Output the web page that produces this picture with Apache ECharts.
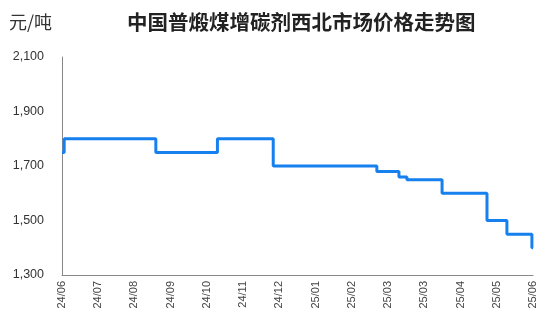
<!DOCTYPE html>
<html><head><meta charset="utf-8">
<script src="https://cdn.jsdelivr.net/npm/echarts@6/dist/echarts.min.js"></script>
<style>html,body{margin:0;padding:0;background:#fff}#c{width:550px;height:323px}</style>
</head><body><div id="c"></div>
<script>
// Tick labels along the x axis (evenly spaced, index 0..13)
var dateLabels = ['24/06','24/07','24/08','24/09','24/10','24/11','24/12','25/01','25/02','25/03','25/03','25/04','25/05','25/06'];
// Positions (in tick-index units) where the price level changes
var stepPositions = [0, 0.06, 2.59, 4.29, 5.83, 8.69, 9.30, 9.52, 10.49, 11.73, 12.28, 12.97, 13];
// Price level starting at each position (元/吨)
var prices = [1750, 1800, 1750, 1800, 1700, 1680, 1660, 1650, 1600, 1500, 1450, 1400, 1400];

var data = stepPositions.map(function (p, i) { return [p, prices[i]]; });
var chart = echarts.init(document.getElementById('c'));
chart.setOption({
  animation: false,
  backgroundColor: '#fff',
  title: {
    text: '中国普煅煤增碳剂西北市场价格走势图',
    left: 122, top: 7,
    textStyle: { fontSize: 20.5, fontWeight: 'bold', color: '#222', fontFamily: 'Noto Sans CJK SC' }
  },
  grid: { left: 62, right: 17, top: 57, bottom: 48 },
  xAxis: {
    type: 'value', min: 0, max: 13, interval: 1,
    axisLine: { show: true, lineStyle: { color: '#888', width: 1 } },
    axisTick: { show: false },
    splitLine: { show: false },
    axisLabel: {
      rotate: 90, fontSize: 11, color: '#444', margin: 6, fontFamily: 'Liberation Sans',
      formatter: function (v) { return dateLabels[Math.round(v)]; }
    }
  },
  yAxis: {
    type: 'value', min: 1300, max: 2100, interval: 200,
    name: '元/吨', nameLocation: 'end', nameGap: 0,
    nameTextStyle: { fontSize: 18, color: '#333', align: 'left', padding: [0, 0, 26, -53], fontFamily: 'Noto Sans CJK SC' },
    axisLine: { show: true, lineStyle: { color: '#888', width: 1 } },
    axisTick: { show: false },
    splitLine: { show: false },
    axisLabel: {
      fontSize: 12.5, color: '#333', margin: 18, fontFamily: 'Liberation Sans',
      formatter: function (v) { return v.toLocaleString('en-US'); }
    }
  },
  series: [{
    type: 'line', step: 'end', data: data, symbol: 'none',
    lineStyle: { color: '#1580EE', width: 3 }
  }]
});
</script></body></html>
